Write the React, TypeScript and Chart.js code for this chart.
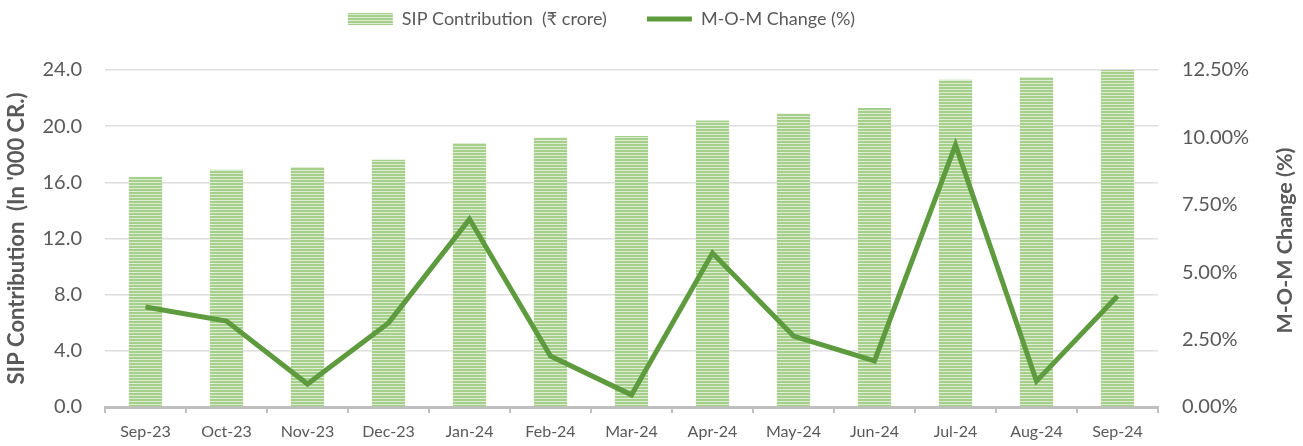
import React, { useEffect, useRef } from "react";
import { Chart, registerables } from "chart.js";

Chart.register(...registerables);

const categories = ["Sep-23", "Oct-23", "Nov-23", "Dec-23", "Jan-24", "Feb-24", "Mar-24", "Apr-24", "May-24", "Jun-24", "Jul-24", "Aug-24", "Sep-24"];
const sipContribution = [16.4, 16.9, 17.1, 17.6, 18.8, 19.2, 19.3, 20.4, 20.9, 21.3, 23.3, 23.5, 24.5];
const momChange = [3.71, 3.19, 0.85, 3.12, 6.97, 1.89, 0.45, 5.71, 2.63, 1.71, 9.72, 0.96, 4.12];
const leftTicks = { min: 0, max: 24, step: 4 };
const rightTicks = { min: 0, max: 12.5, step: 2.5 };
const leftTitle = "SIP Contribution  (In '000 CR.)";
const rightTitle = "M-O-M Change (%)";

const FONT = "Lato, 'Noto Sans', sans-serif";
const TEXT = "#595959";
const LINE = "#5e9b3e";

function makePattern(): CanvasPattern | string {
  const c = document.createElement("canvas");
  c.width = 4;
  c.height = 3;
  const g = c.getContext("2d");
  if (!g) return "#a9d18e";
  g.fillStyle = "#a6cf8b";
  g.fillRect(0, 0, 4, 2);
  g.fillStyle = "#dcedd2";
  g.fillRect(0, 2, 4, 1);
  const p = g.createPattern(c, "repeat");
  return p || "#a9d18e";
}

export default function App() {
  const ref = useRef<HTMLCanvasElement | null>(null);
  useEffect(() => {
    document.body.style.margin = "0";
    const canvas = ref.current;
    if (!canvas) return;
    const pattern = makePattern();
    const legendShift = {
      id: "legendShift",
      afterLayout(chart: any) {
        const lg = chart.legend;
        if (lg) {
          lg.left -= 50;
          lg.right -= 50;
          lg.top -= 32;
          lg.bottom -= 32;
        }
      },
    };
    const rightTitlePlugin = {
      id: "rightTitle",
      afterDraw(chart: any) {
        const ctx = chart.ctx;
        const s = chart.scales.y1;
        const area = chart.chartArea;
        ctx.save();
        ctx.translate(s.right - 18, (area.top + area.bottom) / 2 + 2);
        ctx.rotate(-Math.PI / 2);
        ctx.textAlign = "center";
        ctx.textBaseline = "middle";
        ctx.font = `bold 21.5px ${FONT}`;
        ctx.fillStyle = TEXT;
        ctx.fillText(rightTitle, 0, 0);
        ctx.restore();
      },
    };
    const chart = new Chart(canvas, {
      type: "bar",
      data: {
        labels: categories,
        datasets: [
          {
            type: "bar",
            label: "SIP Contribution  (₹ crore)",
            data: sipContribution,
            backgroundColor: pattern as any,
            borderWidth: 0,
            barPercentage: 0.41,
            categoryPercentage: 1,
            yAxisID: "y",
            order: 2,
          },
          {
            type: "line",
            label: "M-O-M Change (%)",
            data: momChange,
            borderColor: LINE,
            backgroundColor: LINE,
            borderWidth: 5,
            pointRadius: 0,
            tension: 0,
            yAxisID: "y1",
            order: 1,
          } as any,
        ],
      },
      options: {
        responsive: false,
        animation: false,
        layout: { padding: { left: 0, right: 0, top: 2, bottom: 0 } },
        plugins: {
          tooltip: { enabled: false },
          legend: {
            position: "top",
            labels: {
              font: { family: FONT, size: 18 },
              color: TEXT,
              usePointStyle: true,
              pointStyleWidth: 45,
              boxHeight: 12,
              padding: 40,
              sort: (a: any, b: any) => a.datasetIndex - b.datasetIndex,
              generateLabels(chart: any) {
                const items = Chart.defaults.plugins.legend.labels.generateLabels(chart);
                items.forEach((it: any) => {
                  if (it.datasetIndex === 0) {
                    it.pointStyle = "rect";
                    it.lineWidth = 0;
                    it.fillStyle = pattern;
                  } else {
                    it.pointStyle = "line";
                    it.lineWidth = 5;
                    it.strokeStyle = LINE;
                  }
                });
                return items;
              },
            },
          },
        },
        scales: {
          x: {
            offset: true,
            grid: {
              offset: true,
              drawOnChartArea: false,
              drawTicks: true,
              tickLength: 6,
              color: "#bfbfbf",
              lineWidth: 2,
            },
            border: { display: true, color: "#bfbfbf", width: 3 },
            ticks: { font: { family: FONT, size: 16 }, color: TEXT, padding: 9, maxRotation: 0 },
            afterFit: (s: any) => {
              s.height = 39;
            },
          },
          y: {
            position: "left",
            min: leftTicks.min,
            max: leftTicks.max,
            grid: { color: "#dedede", lineWidth: 1.5, drawTicks: false },
            border: { display: false },
            ticks: {
              stepSize: leftTicks.step,
              font: { family: FONT, size: 20 },
              color: TEXT,
              padding: 23,
              callback: (v: any) => Number(v).toFixed(1),
            },
            title: {
              display: true,
              text: leftTitle,
              font: { family: FONT, size: 22, weight: "bold" },
              color: TEXT,
              padding: { top: 4, bottom: 0 },
            },
            afterFit: (s: any) => {
              s.width = 105;
            },
          },
          y1: {
            position: "right",
            min: rightTicks.min,
            max: rightTicks.max,
            grid: { drawOnChartArea: false, drawTicks: false },
            border: { display: false },
            ticks: {
              stepSize: rightTicks.step,
              font: { family: FONT, size: 20 },
              color: TEXT,
              padding: 24,
              callback: (v: any) => Number(v).toFixed(2) + "%",
            },
            afterFit: (s: any) => {
              s.width = 145;
            },
          },
        },
      },
      plugins: [legendShift, rightTitlePlugin],
    });
    return () => chart.destroy();
  }, []);
  return (
    <div style={{ width: 1303, height: 446 }}>
      <canvas ref={ref} width={1303} height={446} />
    </div>
  );
}
